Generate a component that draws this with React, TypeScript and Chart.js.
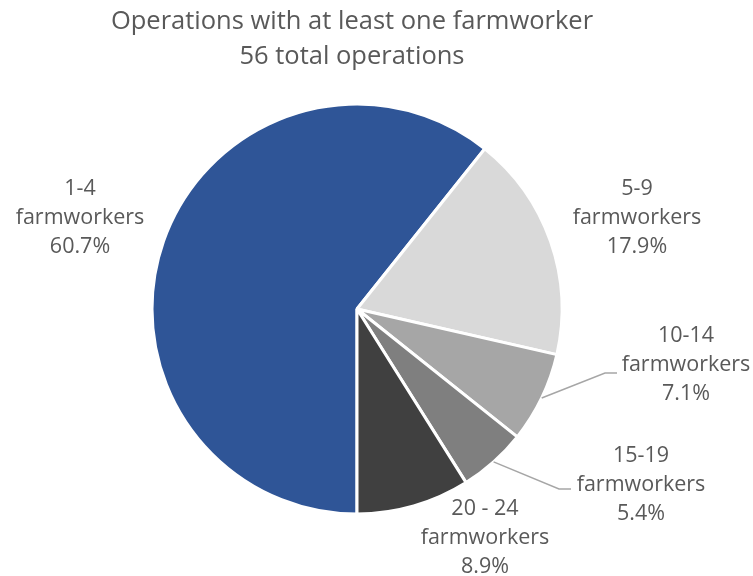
import React, { useEffect, useRef } from "react";
import { Chart, registerables } from "chart.js";
Chart.register(...registerables);

const titleLines = ["Operations with at least one farmworker", "56 total operations"];
const categories = ["1-4", "5-9", "10-14", "15-19", "20 - 24"];
const unitLabel = "farmworkers";
const counts = [34, 10, 4, 3, 5];
const percentLabels = ["60.7%", "17.9%", "7.1%", "5.4%", "8.9%"];
const sliceColors = ["#2F5597", "#D9D9D9", "#A6A6A6", "#7F7F7F", "#404040"];

// label placement relative to pie centre (pixels); leader = [elbowX, elbowY, endX, endY]
const labelPlacement: { dx: number; dy: number; leader?: number[] }[] = [
  { dx: -277, dy: -91 },
  { dx: 280, dy: -91 },
  { dx: 329, dy: 56, leader: [248, 64, 260, 64] },
  { dx: 284, dy: 176, leader: [202, 180, 214, 180] },
  { dx: 128, dy: 229 },
];

const FONT = "'Open Sans', 'Noto Sans', sans-serif";
const TEXT_COLOR = "#595959";

const labelPlugin = {
  id: "pieLabels",
  afterDraw(chart: any) {
    const ctx = chart.ctx as CanvasRenderingContext2D;
    const meta = chart.getDatasetMeta(0);
    ctx.save();
    // title
    ctx.fillStyle = TEXT_COLOR;
    ctx.textAlign = "center";
    ctx.textBaseline = "middle";
    ctx.font = `25.5px ${FONT}`;
    ctx.fillText(titleLines[0], 352, 22);
    ctx.fillText(titleLines[1], 352, 57);

    ctx.font = `21.5px ${FONT}`;
    meta.data.forEach((arc: any, i: number) => {
      const cx = arc.x;
      const cy = arc.y;
      const r = arc.outerRadius;
      const mid = (arc.startAngle + arc.endAngle) / 2;
      const p = labelPlacement[i];
      if (p.leader) {
        ctx.strokeStyle = "#A6A6A6";
        ctx.lineWidth = 1.5;
        ctx.beginPath();
        ctx.moveTo(cx + Math.cos(mid) * r, cy + Math.sin(mid) * r);
        ctx.lineTo(cx + p.leader[0], cy + p.leader[1]);
        ctx.lineTo(cx + p.leader[2], cy + p.leader[3]);
        ctx.stroke();
      }
      const lx = cx + p.dx;
      const ly = cy + p.dy;
      ctx.fillStyle = TEXT_COLOR;
      ctx.fillText(categories[i], lx, ly - 29);
      ctx.fillText(unitLabel, lx, ly);
      ctx.fillText(percentLabels[i], lx, ly + 29);
    });
    ctx.restore();
  },
};

export default function App() {
  const ref = useRef<HTMLCanvasElement>(null);
  useEffect(() => {
    document.body.style.margin = "0";
    const chart = new Chart(ref.current!, {
      type: "pie",
      data: {
        labels: categories.map((c) => `${c} ${unitLabel}`),
        datasets: [
          {
            data: counts,
            backgroundColor: sliceColors,
            borderColor: "#FFFFFF",
            borderWidth: 3,
          },
        ],
      },
      options: {
        animation: false,
        responsive: true,
        maintainAspectRatio: false,
        rotation: 180,
        radius: 205,
        layout: { padding: { top: 99, bottom: 57, left: 100, right: 139 } },
        plugins: {
          legend: { display: false },
          title: { display: false },
          tooltip: { enabled: false },
        },
      },
      plugins: [labelPlugin],
    });
    return () => chart.destroy();
  }, []);
  return (
    <div style={{ position: "absolute", left: 0, top: 0, width: 753, height: 576, background: "#fff" }}>
      <canvas ref={ref} />
    </div>
  );
}
